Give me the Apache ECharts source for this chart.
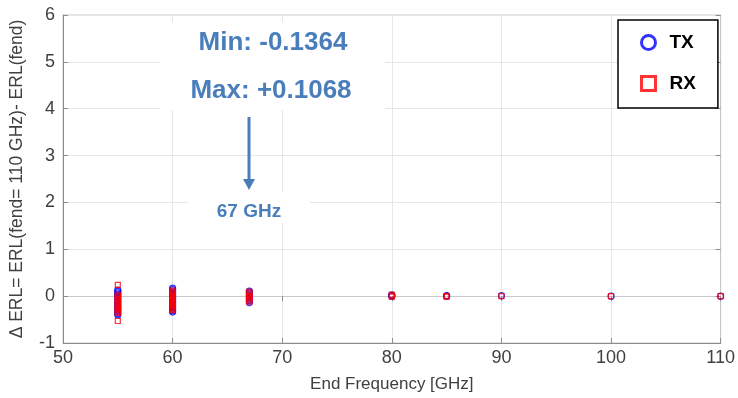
<!DOCTYPE html>
<html>
<head>
<meta charset="utf-8">
<script src="https://cdn.jsdelivr.net/npm/echarts@6/dist/echarts.min.js"></script>
<style>html,body{margin:0;padding:0;background:#fff;}#c{width:738px;height:398px;}</style>
</head>
<body>
<div id="c"></div>
<script>
// ---- data ----
const xTicks = [50, 60, 70, 80, 90, 100, 110];
const yTicks = [-1, 0, 1, 2, 3, 4, 5, 6];
const freqs = [55, 60, 67, 80, 85, 90, 100, 110];
const txValues = [
  [0.13, 0.10, 0.07, 0.04, 0.01, -0.02, -0.05, -0.09, -0.12, -0.15, -0.19, -0.22, -0.25, -0.28, -0.31, -0.34, -0.37, -0.40],
  [0.17, 0.14, 0.11, 0.08, 0.05, 0.02, -0.01, -0.04, -0.07, -0.10, -0.13, -0.16, -0.19, -0.22, -0.25, -0.28, -0.31, -0.34],
  [0.1068, 0.08, 0.05, 0.02, -0.01, -0.04, -0.07, -0.10, -0.1364],
  [0.03, 0.01, 0.0],
  [0.01, 0.0],
  [0.01],
  [0.0],
  [0.0]
];
const rxValues = [
  [0.24, 0.03, 0.0, -0.03, -0.06, -0.09, -0.12, -0.15, -0.18, -0.21, -0.24, -0.27, -0.30, -0.33, -0.36, -0.53],
  [0.12, 0.09, 0.06, 0.03, 0.0, -0.03, -0.06, -0.09, -0.12, -0.15, -0.18, -0.21, -0.24, -0.27, -0.30],
  [0.09, 0.06, 0.03, 0.0, -0.03, -0.06, -0.09, -0.12],
  [0.03, 0.01, -0.01],
  [0.0, -0.01],
  [0.0],
  [0.0],
  [0.0]
];
const seriesNames = ['TX', 'RX'];
const annotationMin = 'Min: -0.1364';
const annotationMax = 'Max: +0.1068';
const annotationFreq = '67 GHz';

function pairs(vals) {
  const out = [];
  freqs.forEach((f, i) => vals[i].forEach(v => out.push([f, v])));
  return out;
}

const FONT = '"Liberation Sans", Arial, sans-serif';
const TXT = '#404040';
const BLUE = '#4a7ebb';

const chart = echarts.init(document.getElementById('c'), null, {renderer: 'canvas'});
chart.setOption({
  animation: false,
  backgroundColor: '#fff',
  grid: {left: 61, right: 15, top: 15, bottom: 55, show: true, borderColor: '#c8c8c8', borderWidth: 1, backgroundColor: 'transparent'},
  xAxis: [{
    type: 'value', min: xTicks[0], max: xTicks[xTicks.length - 1], interval: 10,
    name: 'End Frequency [GHz]', nameLocation: 'middle', nameGap: 33,
    nameTextStyle: {fontFamily: FONT, fontSize: 17, color: TXT},
    axisLine: {show: true, onZero: false, lineStyle: {color: '#8c8c8c', width: 1}},
    axisTick: {show: true, inside: true, length: 5, lineStyle: {color: '#8c8c8c'}},
    axisLabel: {fontFamily: FONT, fontSize: 18, color: TXT, margin: 6},
    splitLine: {show: true, lineStyle: {color: '#e6e6e6', width: 1}}
  }, {
    type: 'value', position: 'top', min: xTicks[0], max: xTicks[xTicks.length - 1], interval: 10,
    axisLine: {show: true, lineStyle: {color: '#c8c8c8'}},
    axisTick: {show: true, inside: true, length: 5, lineStyle: {color: '#8c8c8c'}},
    axisLabel: {show: false}, splitLine: {show: false}
  }],
  yAxis: [{
    type: 'value', min: yTicks[0], max: yTicks[yTicks.length - 1], interval: 1,
    name: 'Δ ERL= ERL(fend= 110 GHz)- ERL(fend)', nameLocation: 'middle', nameGap: 37,
    nameTextStyle: {fontFamily: FONT, fontSize: 17.5, color: TXT},
    axisLine: {show: true, onZero: false, lineStyle: {color: '#8c8c8c', width: 1}},
    axisTick: {show: true, inside: true, length: 5, lineStyle: {color: '#8c8c8c'}},
    axisLabel: {fontFamily: FONT, fontSize: 18, color: TXT, margin: 8},
    splitLine: {show: true, lineStyle: {color: '#e6e6e6', width: 1}}
  }, {
    type: 'value', position: 'right', min: yTicks[0], max: yTicks[yTicks.length - 1], interval: 1,
    axisLine: {show: true, lineStyle: {color: '#c8c8c8'}},
    axisTick: {show: true, inside: true, length: 5, lineStyle: {color: '#8c8c8c'}},
    axisLabel: {show: false}, splitLine: {show: false}
  }],
  legend: {
    orient: 'vertical', left: 618, top: 20,
    padding: [13, 22, 15, 22], itemGap: 22,
    itemWidth: 14, itemHeight: 14,
    backgroundColor: '#fff', borderColor: '#000', borderWidth: 1.5,
    textStyle: {fontFamily: FONT, fontSize: 19, fontWeight: 'bold', color: '#000', padding: [0, 0, 0, 9]},
    data: [
      {name: seriesNames[0], icon: 'circle', itemStyle: {color: '#fff', borderColor: '#0000ff', borderWidth: 3}},
      {name: seriesNames[1], icon: 'rect', itemStyle: {color: '#fff', borderColor: '#ff0000', borderWidth: 3}}
    ]
  },
  series: [{
    name: seriesNames[0], type: 'scatter', clip: false,
    symbol: 'circle', symbolSize: 6,
    itemStyle: {color: 'rgba(255,255,255,0)', borderColor: '#0000ff', borderWidth: 1.2},
    data: pairs(txValues), z: 3
  }, {
    name: seriesNames[1], type: 'scatter', clip: false,
    symbol: 'rect', symbolSize: 5,
    itemStyle: {color: 'rgba(255,255,255,0)', borderColor: '#ff0000', borderWidth: 1.2},
    data: pairs(rxValues), z: 4
  }],
  graphic: [
    {type: 'rect', shape: {x: 160, y: 22, width: 225, height: 88}, style: {fill: '#fff'}, z: 50, silent: true},
    {type: 'rect', shape: {x: 188, y: 191, width: 122, height: 32}, style: {fill: '#fff'}, z: 50, silent: true},
    {type: 'text', x: 273, y: 43, z: 60, style: {text: annotationMin, fill: BLUE, font: 'bold 26px ' + FONT, textAlign: 'center', textVerticalAlign: 'middle'}},
    {type: 'text', x: 271, y: 91, z: 60, style: {text: annotationMax, fill: BLUE, font: 'bold 26px ' + FONT, textAlign: 'center', textVerticalAlign: 'middle'}},
    {type: 'line', shape: {x1: 249, y1: 117, x2: 249, y2: 180}, style: {stroke: BLUE, lineWidth: 3}, z: 60},
    {type: 'polygon', shape: {points: [[243, 179], [255, 179], [249, 190]]}, style: {fill: BLUE}, z: 60},
    {type: 'text', x: 249, y: 212, z: 60, style: {text: annotationFreq, fill: BLUE, font: 'bold 19px ' + FONT, textAlign: 'center', textVerticalAlign: 'middle'}}
  ]
});
</script>
</body>
</html>
